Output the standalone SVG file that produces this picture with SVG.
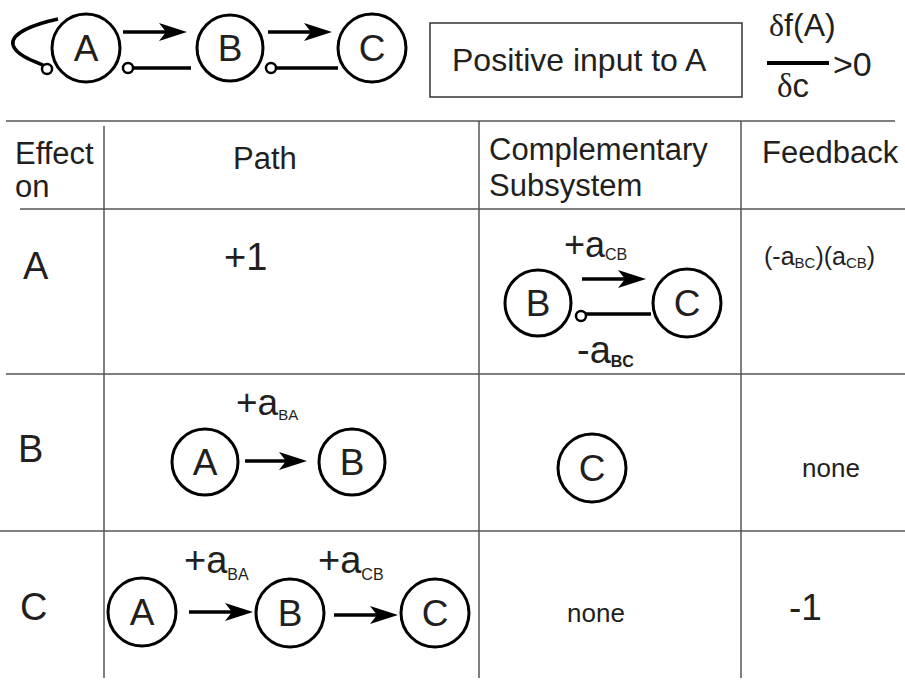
<svg xmlns="http://www.w3.org/2000/svg" width="905" height="690" viewBox="0 0 905 690">
<style>
text{font-family:"Liberation Sans",Arial,sans-serif;fill:#231f20}
.node{fill:none;stroke:#000;stroke-width:3}
.lbl{font-size:37px;text-anchor:middle}
.edge{stroke:#000;stroke-width:3.5;fill:none}
.inh{fill:#fff;stroke:#000;stroke-width:2.5}
.grid{stroke:#555;stroke-width:1.5;fill:none}
.hdr{font-size:31px}
.row{font-size:38px}
.sub{font-size:15px}
.serif{font-family:"Liberation Serif","Times New Roman",serif}
</style>
<defs>
<marker id="arr" markerUnits="userSpaceOnUse" markerWidth="28" markerHeight="18" refX="18" refY="9" orient="auto">
<path d="M0,0 L28,9 L0,18 L7,9 Z" fill="#000"/>
</marker>
</defs>

<!-- top legend -->
<g id="topA"><circle class="node" cx="86" cy="48" r="34"/><text class="lbl" x="86" y="61">A</text></g>
<g id="topB"><circle class="node" cx="230" cy="48" r="33"/><text class="lbl" x="230" y="61">B</text></g>
<g id="topC"><circle class="node" cx="372" cy="48" r="34"/><text class="lbl" x="372" y="61">C</text></g>

<g id="inputBox">
<rect x="430" y="23" width="312" height="74" fill="none" stroke="#333" stroke-width="1.5"/>
<text x="452" y="71" font-size="32">Positive input to A</text>
</g>
<g id="derivative">
<text x="769" y="36" font-size="32"><tspan class="serif">δ</tspan>f(A)</text>
<line x1="767" y1="63" x2="829" y2="63" stroke="#000" stroke-width="4"/>
<text x="833" y="76" font-size="34">&gt;0</text>
<text x="777" y="97" font-size="33"><tspan class="serif">δ</tspan>c</text>
</g>

<!-- table -->
<g id="table">
<line class="grid" x1="6" y1="121" x2="895" y2="121"/>
<line class="grid" x1="20" y1="209" x2="905" y2="209"/>
<line class="grid" x1="6" y1="374" x2="905" y2="374"/>
<line class="grid" x1="0" y1="531" x2="905" y2="531"/>
<line class="grid" x1="104" y1="126" x2="104" y2="678" stroke="#000"/>
<line class="grid" x1="479" y1="121" x2="479" y2="678" stroke="#000"/>
<line class="grid" x1="741" y1="121" x2="741" y2="678"/>
<text class="hdr" x="15" y="164">Effect<tspan x="15" y="197">on</tspan></text>
<text class="hdr" x="233" y="169">Path</text>
<text class="hdr" x="489" y="160" font-size="32">Complementary<tspan x="489" y="196">Subsystem</tspan></text>
<text class="hdr" x="762" y="163">Feedback</text>
<text class="row" x="23" y="279">A</text>
<text class="row" x="18" y="462">B</text>
<text class="row" x="20" y="620">C</text>
<text class="row" x="224" y="270">+1</text>
<text x="764" y="265" font-size="25">(-a<tspan font-size="15" dy="3">BC</tspan><tspan dy="-3">)(a</tspan><tspan font-size="15" dy="3">CB</tspan><tspan dy="-3">)</tspan></text>
<text x="802" y="477" font-size="26">none</text>
<text x="567" y="622" font-size="26">none</text>
<text x="789" y="620" font-size="37">-1</text>
</g>

<!-- row A complementary subsystem -->
<g id="rA_B"><circle class="node" cx="538" cy="303" r="33"/><text class="lbl" x="538" y="316">B</text></g>
<g id="rA_C"><circle class="node" cx="687" cy="303" r="34"/><text class="lbl" x="687" y="316">C</text></g>
<text x="564" y="257" font-size="36">+a<tspan font-size="16" dy="3">CB</tspan></text>
<text x="577" y="363" font-size="38">-a<tspan font-size="16" font-weight="bold" dy="4">BC</tspan></text>

<!-- row B -->
<g id="rB_A"><circle class="node" cx="205" cy="462" r="33"/><text class="lbl" x="205" y="475">A</text></g>
<g id="rB_B"><circle class="node" cx="352" cy="462" r="33"/><text class="lbl" x="352" y="475">B</text></g>
<g id="rB_C"><circle class="node" cx="592" cy="468" r="34"/><text class="lbl" x="592" y="481">C</text></g>
<text x="236" y="415" font-size="37">+a<tspan class="sub" dy="5">BA</tspan></text>

<!-- row C -->
<g id="rC_A"><circle class="node" cx="142" cy="612" r="34"/><text class="lbl" x="142" y="625">A</text></g>
<g id="rC_B"><circle class="node" cx="290" cy="613" r="34"/><text class="lbl" x="290" y="626">B</text></g>
<g id="rC_C"><circle class="node" cx="435" cy="613" r="34"/><text class="lbl" x="435" y="626">C</text></g>
<text x="184" y="573" font-size="38">+a<tspan font-size="16" dy="7">BA</tspan></text>
<text x="318" y="573" font-size="38">+a<tspan font-size="16" dy="7">CB</tspan></text>

<g id="connectors">
<path class="edge" d="M123,32 H177" marker-end="url(#arr)"/>
<path class="edge" d="M268,32 H322" marker-end="url(#arr)"/>
<path class="edge" d="M133,68 H191"/>
<circle class="inh" cx="128" cy="68" r="5"/>
<path class="edge" d="M276,68 H338"/>
<circle class="inh" cx="271" cy="68" r="5"/>
<path class="edge" stroke-width="3" d="M58,19 C35,24 10,33 13,45 C16,55 33,61 43,65"/>
<circle class="inh" cx="47" cy="69" r="5"/>

<path class="edge" d="M582,279 H636" marker-end="url(#arr)"/>
<path class="edge" d="M586,314 H651"/>
<circle class="inh" cx="581" cy="316" r="5"/>

<path class="edge" d="M245,461 H297" marker-end="url(#arr)"/>
<path class="edge" d="M189,612 H243" marker-end="url(#arr)"/>
<path class="edge" d="M334,615 H388" marker-end="url(#arr)"/>
</g>
</svg>
